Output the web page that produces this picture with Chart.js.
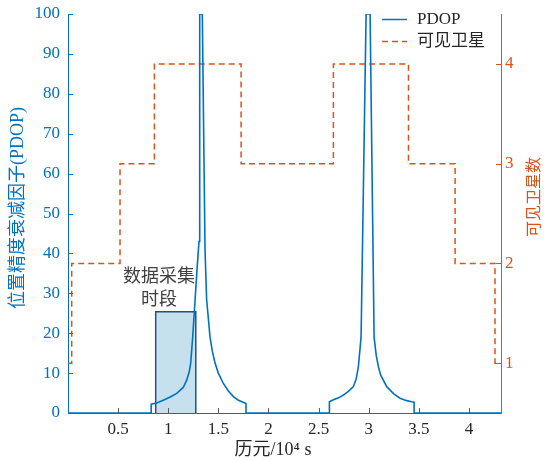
<!DOCTYPE html>
<html><head><meta charset="utf-8">
<script src="https://cdn.jsdelivr.net/npm/chart.js@4/dist/chart.umd.min.js"></script>
<style>html,body{margin:0;padding:0;background:#fff}</style>
</head><body>
<canvas id="c" width="545" height="461"></canvas>
<script>
// ---- data ----
const seriesNames = ['PDOP', '可见卫星'];
const pdopTime = [0, 0.83, 0.83, 0.885, 0.95, 1.02, 1.085, 1.15, 1.185, 1.21, 1.224, 1.244, 1.267, 1.29, 1.307, 1.314, 1.340, 1.367, 1.383, 1.417, 1.44, 1.467, 1.50, 1.55, 1.60, 1.65, 1.70, 1.766, 1.776, 1.776,
  2.608, 2.608, 2.648, 2.70, 2.748, 2.80, 2.847, 2.875, 2.897, 2.924, 2.974, 3.014, 3.054, 3.075, 3.097, 3.12, 3.18, 3.25, 3.313, 3.38, 3.43, 3.453, 3.453, 4.32];
const pdopValue = [0, 0, 2.2, 2.5, 3.2, 4.0, 4.9, 6.4, 8.3, 10.4, 12.5, 19, 28, 37, 43, 100, 100, 41, 28.5, 19, 15.5, 12.5, 10, 7.4, 5.5, 4.1, 3.2, 2.5, 2.4, 0,
  0, 2.8, 3.3, 3.8, 4.5, 5.5, 6.6, 8.5, 11.6, 19, 100, 100, 19, 14.5, 11.6, 9.5, 6.6, 4.8, 3.7, 3.1, 2.8, 2.7, 0, 0];
const satTime = [0, 0.037, 0.519, 0.862, 1.727, 2.648, 3.397, 3.862, 4.26, 4.31];
const satCount = [1, 2, 3, 4, 3, 4, 3, 2, 1, 1];
const boxTime = [0.875, 1.275];
const boxHeight = 25.4;
const boxLabel = ['数据采集', '时段'];
const xTicks = [0.5, 1, 1.5, 2, 2.5, 3, 3.5, 4];
const leftTicks = [0, 10, 20, 30, 40, 50, 60, 70, 80, 90, 100];
const rightTicks = [1, 2, 3, 4];
const xTitle = '历元/10⁴ s';
const leftTitle = '位置精度衰减因子(PDOP)';
const rightTitle = '可见卫星数';

// ---- style ----
const BLUE = '#0072BD', ORANGE = '#D95319', DARK = '#262626', AXISGRAY = '#5a5a5a';
const FAM = '"Liberation Serif", "Noto Sans CJK SC", serif';

const pts = (xs, ys) => xs.map((x, i) => ({x, y: ys[i]}));
const boxPts = [
  {x: boxTime[0], y: 0}, {x: boxTime[0], y: boxHeight},
  {x: boxTime[1], y: boxHeight}, {x: boxTime[1], y: 0}
];

const inwardTicks = {
  id: 'inwardTicks',
  afterDraw(chart) {
    const c = chart.ctx, a = chart.chartArea, L = 5;
    c.save(); c.lineWidth = 1;
    const sx = chart.scales.x;
    c.strokeStyle = AXISGRAY;
    xTicks.forEach(v => { const p = Math.round(sx.getPixelForValue(v)) + 0.5; c.beginPath(); c.moveTo(p, a.bottom); c.lineTo(p, a.bottom - L); c.stroke(); });
    const sy = chart.scales.y;
    c.strokeStyle = BLUE;
    leftTicks.forEach(v => { const p = Math.round(sy.getPixelForValue(v)) + 0.5; c.beginPath(); c.moveTo(a.left, p); c.lineTo(a.left + L, p); c.stroke(); });
    const sy2 = chart.scales.y2;
    c.strokeStyle = ORANGE;
    rightTicks.forEach(v => { const p = Math.round(sy2.getPixelForValue(v)) + 0.5; c.beginPath(); c.moveTo(a.right, p); c.lineTo(a.right - L, p); c.stroke(); });
    c.restore();
  }
};

const texts = {
  id: 'texts',
  afterDraw(chart) {
    const c = chart.ctx;
    const sx = chart.scales.x, sy = chart.scales.y;
    c.save();
    c.textBaseline = 'middle'; c.textAlign = 'center';
    c.fillStyle = DARK; c.font = '18px ' + FAM;
    c.fillText(xTitle, 273, 450);
    c.save(); c.translate(18, 208); c.rotate(-Math.PI / 2);
    c.fillStyle = BLUE; c.font = '18px ' + FAM; c.fillText(leftTitle, 0, 0); c.restore();
    c.save(); c.translate(535, 197); c.rotate(-Math.PI / 2);
    c.fillStyle = ORANGE; c.font = '16px ' + FAM; c.fillText(rightTitle, 0, 0); c.restore();
    c.fillStyle = '#404040'; c.font = '18px ' + FAM;
    const ax = sx.getPixelForValue(0.908);
    c.fillText(boxLabel[0], ax, sy.getPixelForValue(34.1));
    c.fillText(boxLabel[1], ax, sy.getPixelForValue(28.3));
    c.textAlign = 'left'; c.font = '17px ' + FAM; c.fillStyle = DARK;
    c.lineWidth = 1.5;
    c.strokeStyle = BLUE; c.beginPath(); c.moveTo(382, 19.5); c.lineTo(407, 19.5); c.stroke();
    c.fillText(seriesNames[0], 417, 20);
    c.strokeStyle = ORANGE; c.setLineDash([6, 4]); c.beginPath(); c.moveTo(382, 41.5); c.lineTo(407, 41.5); c.stroke();
    c.setLineDash([]);
    c.fillText(seriesNames[1], 417, 42);
    c.restore();
  }
};

const vFit = w => s => { s.width = w; s.paddingTop = 0; s.paddingBottom = 0; };
const tickFont = {family: FAM, size: 17};
new Chart(document.getElementById('c'), {
  type: 'scatter',
  data: {
    datasets: [
      {label: seriesNames[0], data: pts(pdopTime, pdopValue), yAxisID: 'y', showLine: true,
        borderColor: BLUE, borderWidth: 1.6, pointRadius: 0, tension: 0, order: 1},
      {label: seriesNames[1], data: pts(satTime, satCount), yAxisID: 'y2', showLine: true, stepped: 'before',
        borderColor: ORANGE, borderDash: [6, 4], borderWidth: 1.5, pointRadius: 0, order: 2},
      {label: 'box', data: boxPts, yAxisID: 'y', showLine: true, fill: 'origin',
        backgroundColor: '#c7e0ee', borderColor: '#23508c', borderWidth: 1.5, pointRadius: 0, tension: 0, order: 3}
    ]
  },
  options: {
    responsive: false, animation: false, devicePixelRatio: 1,
    layout: {padding: {top: 14, left: 0, right: 0, bottom: 0}},
    plugins: {legend: {display: false}, tooltip: {enabled: false}},
    scales: {
      x: {type: 'linear', position: 'bottom', min: 0, max: 4.32,
        afterBuildTicks: s => { s.ticks = xTicks.map(v => ({value: v})); },
        afterFit: s => { s.height = 48; s.paddingLeft = 0; s.paddingRight = 0; },
        grid: {display: true, drawOnChartArea: false, drawTicks: false},
        border: {display: true, color: AXISGRAY, width: 1},
        ticks: {color: DARK, font: tickFont, padding: 6, autoSkip: false, maxRotation: 0, callback: v => String(v)}},
      y: {type: 'linear', position: 'left', min: 0, max: 100,
        afterBuildTicks: s => { s.ticks = leftTicks.map(v => ({value: v})); },
        afterFit: vFit(68),
        grid: {display: true, drawOnChartArea: false, drawTicks: false},
        border: {display: true, color: BLUE, width: 1},
        ticks: {color: BLUE, font: tickFont, padding: 8, autoSkip: false, callback: v => String(v)}},
      y2: {type: 'linear', position: 'right', min: 0.5, max: 4.5,
        afterBuildTicks: s => { s.ticks = rightTicks.map(v => ({value: v})); },
        afterFit: vFit(44),
        grid: {display: true, drawOnChartArea: false, drawTicks: false},
        border: {display: true, color: ORANGE, width: 1},
        ticks: {color: ORANGE, font: tickFont, padding: 4, autoSkip: false, callback: v => String(v)}}
    }
  },
  plugins: [inwardTicks, texts]
});
</script>
</body></html>
